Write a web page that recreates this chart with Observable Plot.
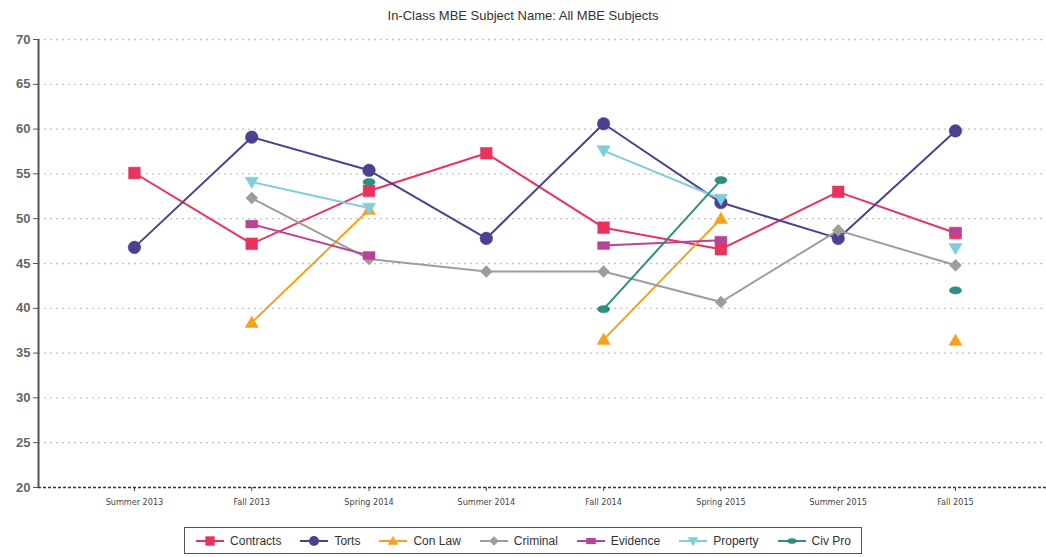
<!DOCTYPE html>
<html>
<head>
<meta charset="utf-8">
<script src="https://cdn.jsdelivr.net/npm/d3@7"></script>
<script src="https://cdn.jsdelivr.net/npm/@observablehq/plot@0.6"></script>
<style>
  html, body { margin: 0; padding: 0; background: #ffffff; }
  body { width: 1046px; height: 557px; overflow: hidden; font-family: "Liberation Sans", Arial, sans-serif; }
  #title { height: 20px; padding-top: 8px; text-align: center; font-size: 13px; color: #333; line-height: 16px; }
  #chart svg { display: block; }
  #legend { display: flex; justify-content: center; margin-top: 7px; }
  #legend .box { display: flex; align-items: center; border: 1.5px solid #555; height: 25px; padding: 0 10px; gap: 18px; }
  #legend .item { display: flex; align-items: center; font-size: 12px; color: #333; }
  #legend svg { margin-right: 5px; }
</style>
</head>
<body>
<div id="title">In-Class MBE Subject Name: All MBE Subjects</div>
<div id="chart"></div>
<div id="legend"><div class="box"></div></div>
<script>
// ---- data ----
const categories = ["Summer 2013", "Fall 2013", "Spring 2014", "Summer 2014", "Fall 2014", "Spring 2015", "Summer 2015", "Fall 2015"];
const yTicks = [20, 25, 30, 35, 40, 45, 50, 55, 60, 65, 70];
const seriesNames = ["Contracts", "Torts", "Con Law", "Criminal", "Evidence", "Property", "Civ Pro"];
const contracts = [55.1, 47.2, 53.1, 57.3, 49.0, 46.6, 53.0, 48.4];
const torts     = [46.8, 59.1, 55.4, 47.8, 60.6, 51.8, 47.8, 59.8];
const conLaw    = [NaN, 38.4, 51.0, NaN, 36.5, 50.0, NaN, 36.4];
const criminal  = [NaN, 52.3, 45.5, 44.1, 44.1, 40.7, 48.7, 44.8];
const evidence  = [NaN, 49.4, 45.9, NaN, 47.0, 47.6, NaN, 48.5];
const property  = [NaN, 54.1, 51.2, NaN, 57.6, 52.2, NaN, 46.7];
const civPro    = [NaN, NaN, 54.1, NaN, 39.9, 54.3, NaN, 42.0];

// ---- styles ----
const colors = ["#e8335f", "#4a4290", "#f5a21f", "#a09c9a", "#b8449a", "#7fcfd6", "#2f8f7e"];
const downTriangle = { draw(ctx, size) { const r = Math.sqrt(size / Math.PI); ctx.moveTo(-r * 1.1, -r * 0.8); ctx.lineTo(r * 1.1, -r * 0.8); ctx.lineTo(0, r * 1.1); ctx.closePath(); } };
const upTriangle = { draw(ctx, size) { const r = Math.sqrt(size / Math.PI); ctx.moveTo(-r * 1.1, r * 0.8); ctx.lineTo(r * 1.1, r * 0.8); ctx.lineTo(0, -r * 1.1); ctx.closePath(); } };
const wideRect = { draw(ctx, size) { const r = Math.sqrt(size / Math.PI); ctx.rect(-r * 1.0, -r * 0.65, r * 2.0, r * 1.3); } };
const diamond = { draw(ctx, size) { const r = Math.sqrt(size / Math.PI); ctx.moveTo(0, -r); ctx.lineTo(r, 0); ctx.lineTo(0, r); ctx.lineTo(-r, 0); ctx.closePath(); } };
const ellipse = { draw(ctx, size) { const r = Math.sqrt(size / Math.PI); const rx = r * 1.1, ry = r * 0.65, k = 0.5523;
  ctx.moveTo(rx, 0);
  ctx.bezierCurveTo(rx, ry * k, rx * k, ry, 0, ry);
  ctx.bezierCurveTo(-rx * k, ry, -rx, ry * k, -rx, 0);
  ctx.bezierCurveTo(-rx, -ry * k, -rx * k, -ry, 0, -ry);
  ctx.bezierCurveTo(rx * k, -ry, rx, -ry * k, rx, 0);
  ctx.closePath(); } };
const symbols = ["square", "circle", upTriangle, diamond, wideRect, downTriangle, ellipse];
const radii = [6.6, 6.3, 6.0, 6.0, 6.0, 6.0, 5.5];
const values = [contracts, torts, conLaw, criminal, evidence, property, civPro];

const series = seriesNames.map((name, s) => ({
  name, color: colors[s], symbol: symbols[s], r: radii[s],
  rows: values[s].map((v, i) => ({ x: i, y: v, cat: categories[i] }))
}));

const xDomain = [-0.818, 7.776];

const marks = [
  Plot.ruleY(yTicks.filter(t => t > 20), { stroke: "#c4c4c4", strokeDasharray: "2,4", strokeWidth: 1.3 }),
  Plot.ruleY([20], { stroke: "#333", strokeDasharray: "3,2", strokeWidth: 1.5 }),
  Plot.ruleX([xDomain[0]], { y1: 20, y2: 70, stroke: "#5b5350", strokeWidth: 2 }),
  Plot.axisY({ ticks: yTicks, tickSize: 5, tickPadding: 3, fontSize: 13, fontWeight: "bold", fill: "#666", stroke: "#555", label: null }),
  Plot.axisX({ ticks: d3.range(categories.length), tickFormat: i => categories[i], tickSize: 4, tickPadding: 7, fontSize: 9, fill: "#444", stroke: "#444", fontFamily: "DejaVu Sans Condensed, Liberation Sans Narrow, sans-serif", label: null })
];
for (const s of series) {
  marks.push(Plot.line(s.rows, { x: "x", y: "y", stroke: s.color, strokeWidth: 2 }));
}
for (const s of series) {
  marks.push(Plot.dot(s.rows.filter(d => !isNaN(d.y)), { x: "x", y: "y", fill: s.color, stroke: s.color, strokeWidth: 0.5, symbol: s.symbol, r: s.r }));
}

const chart = Plot.plot({
  width: 1046,
  height: 492,
  marginTop: 11,
  marginBottom: 33,
  marginLeft: 38,
  marginRight: 0,
  style: { fontFamily: "Liberation Sans, Arial, sans-serif", background: "#ffffff" },
  x: { type: "linear", domain: xDomain },
  y: { domain: [20, 70] },
  marks
});
document.getElementById("chart").appendChild(chart);

// ---- legend ----
const box = document.querySelector("#legend .box");
for (const s of series) {
  const item = document.createElement("div");
  item.className = "item";
  const sw = d3.create("svg").attr("width", 30).attr("height", 14);
  sw.append("line").attr("x1", 1).attr("x2", 29).attr("y1", 7).attr("y2", 7).attr("stroke", s.color).attr("stroke-width", 2);
  const symType = typeof s.symbol === "string" ? { square: d3.symbolSquare, circle: d3.symbolCircle }[s.symbol] : s.symbol;
  sw.append("path").attr("transform", "translate(15,7)").attr("d", d3.symbol(symType, Math.PI * (s.r * 0.8) ** 2)()).attr("fill", s.color);
  item.appendChild(sw.node());
  const t = document.createElement("span");
  t.textContent = s.name;
  item.appendChild(t);
  box.appendChild(item);
}
</script>
</body>
</html>
